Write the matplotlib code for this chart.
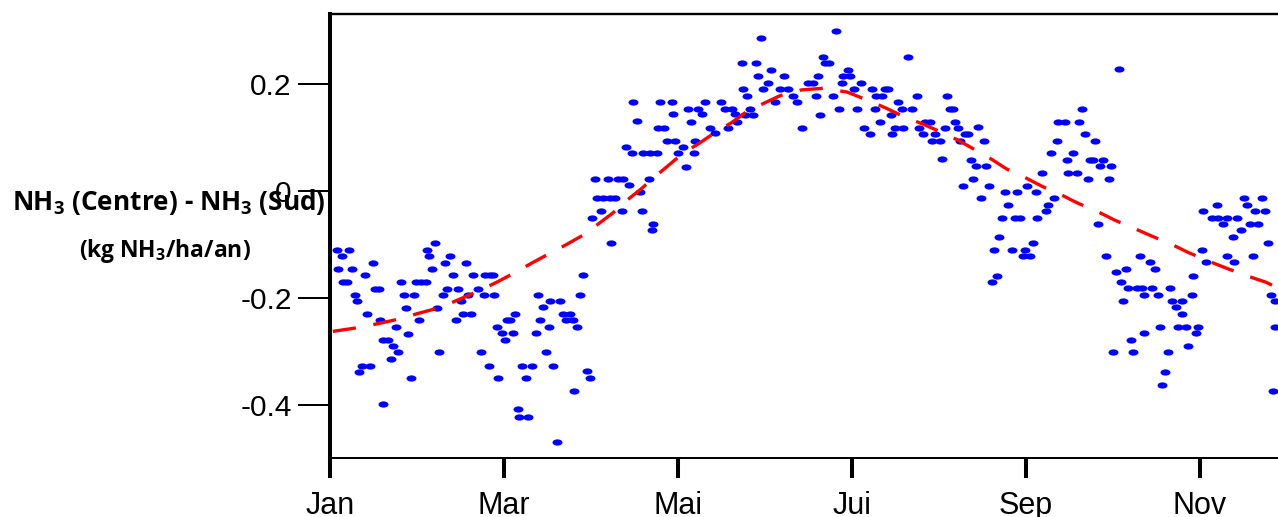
import matplotlib
matplotlib.use("Agg")
import matplotlib.pyplot as plt
from matplotlib.path import Path
from matplotlib.transforms import Affine2D

# ---------------- data ----------------
# day of year of each daily point
jours = [
    2.3, 4.1, 6.8, 2.9, 7.6, 4.7, 6.1, 8.7, 9.3, 12.2, 14.9, 13.1, 15.7, 17.1, 17.5, 18.4,
    20.4, 22.1, 23.9, 21.2, 11.1, 14.0, 10.3, 18.6, 23.0, 24.8, 25.9, 26.6, 27.4, 28.4, 29.5,
    30.1, 31.7, 33.4, 31.1, 33.8, 34.7, 36.7, 35.8, 37.3, 38.2, 39.4, 40.8, 40.2, 42.0, 42.9,
    43.9, 44.6, 45.7, 46.6, 49.3, 47.6, 48.1, 50.1, 51.9, 52.8, 54.0, 54.2, 55.9, 57.1, 55.5,
    57.5, 58.3, 58.9,
    60.0, 61.2, 61.8, 63.0, 64.7, 63.9, 65.8, 66.2, 69.3, 67.2, 70.5, 68.4, 72.8, 74.6, 76.9,
    80.4, 73.4, 71.9, 76.6, 75.5, 78.1, 79.3, 81.6, 83.9, 82.7, 84.8, 86.5, 85.4, 87.4, 88.6,
    89.7, 90.9, 92.7, 97.3, 100.8, 102.6, 104.5, 93.2, 95.6, 97.9, 99.6, 94.8, 91.5, 102.0,
    98.2, 108.4, 109.2, 111.7, 113.0, 112.7, 103.5, 105.7, 109.5, 111.9, 114.2, 106.1, 107.2,
    114.8, 115.4,
    119.5, 116.8, 117.7, 120.6, 121.8, 123.3, 124.4, 125.3, 126.2, 127.6, 127.3, 128.8, 130.0,
    131.2, 132.9, 134.6, 136.9, 138.1, 140.4, 139.3, 141.6, 142.4, 120.0,
    143.9, 149.0, 150.6, 144.5, 145.9, 149.8, 151.5, 153.3, 154.2, 146.9, 145.1, 148.0, 155.6,
    157.3, 160.3, 158.9, 162.0, 163.2, 164.9, 167.3, 169.0, 170.0, 170.8, 171.3, 172.5, 173.1,
    174.6, 176.0, 176.9, 178.0, 178.9, 179.5, 181.2, 181.8, 183.2, 184.2, 185.6, 186.8, 188.8,
    189.6, 190.6, 191.1, 193.2, 192.3, 194.1, 195.2, 196.0, 196.6, 197.6, 200.5, 198.7, 199.9,
    202.2, 203.4, 205.1, 206.1, 207.5, 208.0, 209.8, 210.4, 213.3, 211.5, 214.1, 215.0, 215.9,
    216.8, 218.0, 218.5, 219.7, 220.3,
    222.0, 223.2, 226.7, 228.7, 224.1, 225.8, 229.4, 221.4, 225.0, 230.4, 227.6, 233.9, 232.3,
    231.4, 233.1, 236.0, 237.2, 240.3, 235.1, 239.5, 241.3, 238.6, 242.4, 244.8, 243.2, 245.9,
    243.9, 246.8, 247.4, 248.8, 250.4, 251.2, 252.0, 253.3, 254.1, 254.7, 257.0, 257.6, 259.9,
    258.2, 261.3, 262.0, 263.1, 264.0, 264.9, 265.7, 266.9, 267.5, 269.2, 270.4, 272.4, 273.0,
    268.6, 271.2, 275.8, 274.8, 276.6, 278.3, 277.4, 279.1, 282.1, 283.8, 283.2, 284.7, 286.7,
    287.3, 288.5, 289.4, 290.2, 293.9, 294.3, 295.8, 297.8, 298.1, 296.6, 299.5, 300.1, 301.9,
    301.3, 302.8, 303.6, 280.1, 284.7, 273.9, 280.9, 292.9, 292.0, 290.9, 304.8, 306.3, 305.4,
    308.3, 310.6, 313.5, 317.0, 310.0, 312.1, 315.6, 318.4, 313.5, 316.2, 319.6, 320.7, 322.8,
    321.7, 324.6, 323.4, 325.8, 326.9, 328.1, 328.9, 330.4, 330.4, 329.8,
]
# NH3 (Centre) - NH3 (Sud), kg NH3/ha/an
valeurs = [
    -0.110, -0.122, -0.110, -0.146, -0.146, -0.170, -0.170, -0.194, -0.206, -0.158, -0.135,
    -0.230, -0.183, -0.183, -0.242, -0.279, -0.279, -0.290, -0.302, -0.315, -0.327, -0.327,
    -0.339, -0.399, -0.254, -0.170, -0.194, -0.219, -0.267, -0.351, -0.194, -0.170, -0.170,
    -0.170, -0.242, -0.110, -0.122, -0.098, -0.146, -0.219, -0.302, -0.194, -0.183, -0.135,
    -0.122, -0.158, -0.242, -0.183, -0.206, -0.230, -0.230, -0.135, -0.194, -0.158, -0.183,
    -0.302, -0.194, -0.158, -0.158, -0.158, -0.327, -0.194, -0.254, -0.351,
    -0.266, -0.279, -0.242, -0.242, -0.230, -0.266, -0.409, -0.423, -0.423, -0.327, -0.327,
    -0.350, -0.194, -0.218, -0.207, -0.207, -0.242, -0.266, -0.254, -0.302, -0.327, -0.470,
    -0.230, -0.230, -0.242, -0.242, -0.254, -0.374, -0.194, -0.158, -0.338, -0.350, 0.022,
    0.022, 0.022, 0.022, 0.011, -0.014, -0.014, -0.014, -0.014, -0.037, -0.050, -0.037,
    -0.098, -0.002, -0.037, 0.022, -0.062, -0.073, 0.083, 0.070, 0.070, 0.070, 0.070, 0.167,
    0.130, 0.118, 0.167,
    0.166, 0.118, 0.094, 0.094, 0.0705, 0.083, 0.045, 0.154, 0.1295, 0.094, 0.0705, 0.154,
    0.143, 0.166, 0.118, 0.108, 0.166, 0.154, 0.154, 0.118, 0.143, 0.1295, 0.143,
    0.239, 0.239, 0.287, 0.190, 0.178, 0.215, 0.190, 0.2025, 0.226, 0.154, 0.142, 0.142,
    0.167, 0.190, 0.190, 0.215, 0.178, 0.167, 0.118, 0.2025, 0.2025, 0.178, 0.215, 0.142,
    0.251, 0.239, 0.239, 0.178, 0.299, 0.154, 0.2025, 0.215, 0.226, 0.215, 0.190, 0.154,
    0.2025, 0.118, 0.1065, 0.190, 0.154, 0.178, 0.178, 0.1296, 0.190, 0.190, 0.142, 0.1065,
    0.118, 0.118, 0.167, 0.154, 0.251, 0.154, 0.178, 0.118, 0.1065, 0.1296, 0.1296, 0.094,
    0.094, 0.1065, 0.059, 0.118, 0.178, 0.154, 0.154, 0.1296, 0.118, 0.094,
    0.1065, 0.1065, 0.120, 0.094, 0.0586, 0.046, 0.046, 0.010, 0.022, 0.010, -0.0137,
    -0.086, -0.110, -0.171, -0.159, -0.0025, -0.026, -0.0025, -0.050, -0.050, -0.050,
    -0.110, -0.122, -0.122, -0.110, -0.098, 0.010, -0.0025, -0.050, 0.034, -0.038, -0.026,
    0.0704, -0.0137, 0.094, 0.1296, 0.1296, 0.0586, 0.0704, 0.034, 0.034, 0.1296, 0.153,
    0.1065, 0.022, 0.0586, 0.0586, 0.094, 0.046, 0.0586, 0.022, 0.046, -0.062, -0.122,
    0.228, -0.152, -0.171, -0.146, -0.206, -0.1825, -0.1825, -0.1825, -0.122, -0.194,
    -0.134, -0.1825, -0.146, -0.194, -0.254, -0.1825, -0.206, -0.218, -0.206, -0.230,
    -0.254, -0.254, -0.291, -0.159, -0.194, -0.266, -0.254, -0.2785, -0.266, -0.302, -0.302,
    -0.302, -0.339, -0.3626, -0.110, -0.134, -0.038, -0.050, -0.050, -0.050, -0.050, -0.026,
    -0.062, -0.086, -0.074, -0.122, -0.134, -0.0137, -0.026, -0.122, -0.062, -0.062, -0.038,
    -0.0137, -0.038, -0.098, -0.194, -0.206, -0.254, -0.374,
]

# fitted seasonal curve (red dashed)
courbe_jours = [1.0, 9.8, 16.3, 24.1, 30.4, 38.7, 44.8, 51.7, 58.3, 65.0, 70.6, 77.2, 82.5,
                88.8, 93.3, 99.0, 103.5, 109.1, 112.6, 118.2, 123.1, 129.1, 134.3, 140.5,
                145.1, 151.7, 157.3, 164.9, 172.4, 180.8, 187.4, 194.4, 200.3, 207.3, 213.3,
                219.6, 225.2, 231.7, 236.6, 243.4, 249.2, 256.3, 261.5, 268.9, 274.5, 281.1,
                287.1, 294.1, 300.0, 307.0, 313.6, 320.6, 327.3, 331.5]
courbe_valeurs = [-0.263, -0.256, -0.249, -0.240, -0.230, -0.218, -0.204, -0.188, -0.171,
                  -0.152, -0.135, -0.116, -0.101, -0.082, -0.064, -0.041, -0.019, 0.005,
                  0.022, 0.047, 0.069, 0.089, 0.108, 0.128, 0.146, 0.164, 0.178, 0.189,
                  0.192, 0.185, 0.171, 0.155, 0.140, 0.125, 0.111, 0.095, 0.078, 0.058,
                  0.041, 0.024, 0.008, -0.009, -0.023, -0.040, -0.055, -0.070, -0.084,
                  -0.0996, -0.115, -0.131, -0.145, -0.159, -0.171, -0.182]

mois_labels = ["Jan", "Mar", "Mai", "Jui", "Sep", "Nov"]
mois_index = [0, 2, 4, 6, 8, 10]
y_ticks = [0.2, 0.0, -0.2, -0.4]
y_labels = ["0.2", "0", "-0.2", "-0.4"]

# ---------------- figure ----------------
plt.rcParams["mathtext.fontset"] = "custom"
plt.rcParams["mathtext.rm"] = "Open Sans"
plt.rcParams["mathtext.bf"] = "Open Sans:bold"

W, H = 1278, 517
fig = plt.figure(figsize=(W / 100, H / 100), dpi=100)
ax = fig.add_axes([330 / W, 59 / H, 948 / W, 444.5 / H])

ellipse = Path.unit_circle().transformed(Affine2D().scale(1.6, 1.0))
ax.plot(jours, valeurs, ls="none", marker=ellipse, ms=7.2, color="#0000FF",
        mec="none", zorder=2, clip_on=True)
ax.plot(courbe_jours, courbe_valeurs, color="#FF0000", lw=2.4, dashes=(7.0, 5.3),
        solid_capstyle="butt", dash_capstyle="butt", zorder=3)

ax.set_xlim(0, 331.5)
ax.set_ylim(-0.5, 0.332)

ax.set_xticks([m * 365 / 12 for m in mois_index])
ax.set_xticklabels(mois_labels, fontsize=22, family="Liberation Sans")
ax.set_yticks(y_ticks)
ax.set_yticklabels(y_labels, fontsize=21.5, family="Liberation Sans")

ax.tick_params(axis="x", direction="out", length=14.4, width=2.9, pad=9.5, colors="black")
ax.tick_params(axis="y", direction="out", length=23, width=1.44, pad=4.5, colors="black")

ax.spines["right"].set_visible(False)
ax.spines["left"].set_linewidth(2.9)
ax.spines["bottom"].set_linewidth(1.44)
ax.spines["top"].set_linewidth(1.7)
for s in ax.spines.values():
    s.set_color("black")

fig.text(168.5 / W, 1 - 210 / H, r"NH$_\mathbf{3}$ (Centre) - NH$_\mathbf{3}$ (Sud)",
         ha="center", va="baseline", fontsize=18.9, fontweight="bold", family="Open Sans")
fig.text(165 / W, 1 - 257 / H, r"(kg NH$_\mathbf{3}$/ha/an)",
         ha="center", va="baseline", fontsize=16.5, fontweight="bold", family="Open Sans")

fig.savefig("out.png", dpi=100)
